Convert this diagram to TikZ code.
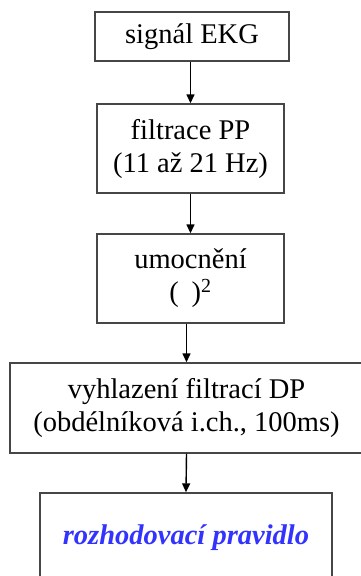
\documentclass[tikz,border=0pt]{standalone}
\usepackage{fontspec}
\setmainfont{Liberation Serif}
\usetikzlibrary{arrows.meta}
\definecolor{boxgray}{RGB}{70,70,70}
\definecolor{ruleblue}{RGB}{51,51,255}
\begin{document}
\begin{tikzpicture}[x=1pt,y=-1pt,
  stepbox/.style={draw=boxgray,line width=1.4pt,align=center,inner sep=0pt,
    font=\fontsize{28.5}{33}\selectfont},
  arr/.style={draw=black,line width=1.4pt,-{Triangle[length=9pt,width=8pt]}}]
\clip (0,0) rectangle (361,576);
\node[stepbox,minimum width=194pt,minimum height=49pt] (b1) at (192,36.5) {signál EKG};
\node[stepbox,minimum width=187pt,minimum height=89pt] (b2) at (190.5,148.5) {filtrace PP\\(11 až 21 Hz)};
\node[stepbox,minimum width=187pt,minimum height=89pt] (b3) at (190.5,278.5) {umocnění\\(\hspace{0.45em})\textsuperscript{2}};
\node[stepbox,minimum width=353pt,minimum height=90pt] (b4) at (186.5,408) {vyhlazení filtrací DP\\(obdélníková i.ch., 100ms)};
\node[stepbox,minimum width=292pt,minimum height=90pt,text=ruleblue,
  font=\fontsize{28.5}{33}\selectfont\bfseries\itshape] (b5) at (186,538) {rozhodovací pravidlo};
\draw[arr] (b1.south -| b2.north) -- (b2.north);
\draw[arr] (b2.south) -- (b3.north);
\draw[arr] (b3.south -| b4.north) -- (b4.north);
\draw[arr] (b4.south) -- (b5.north);
\end{tikzpicture}
\end{document}
